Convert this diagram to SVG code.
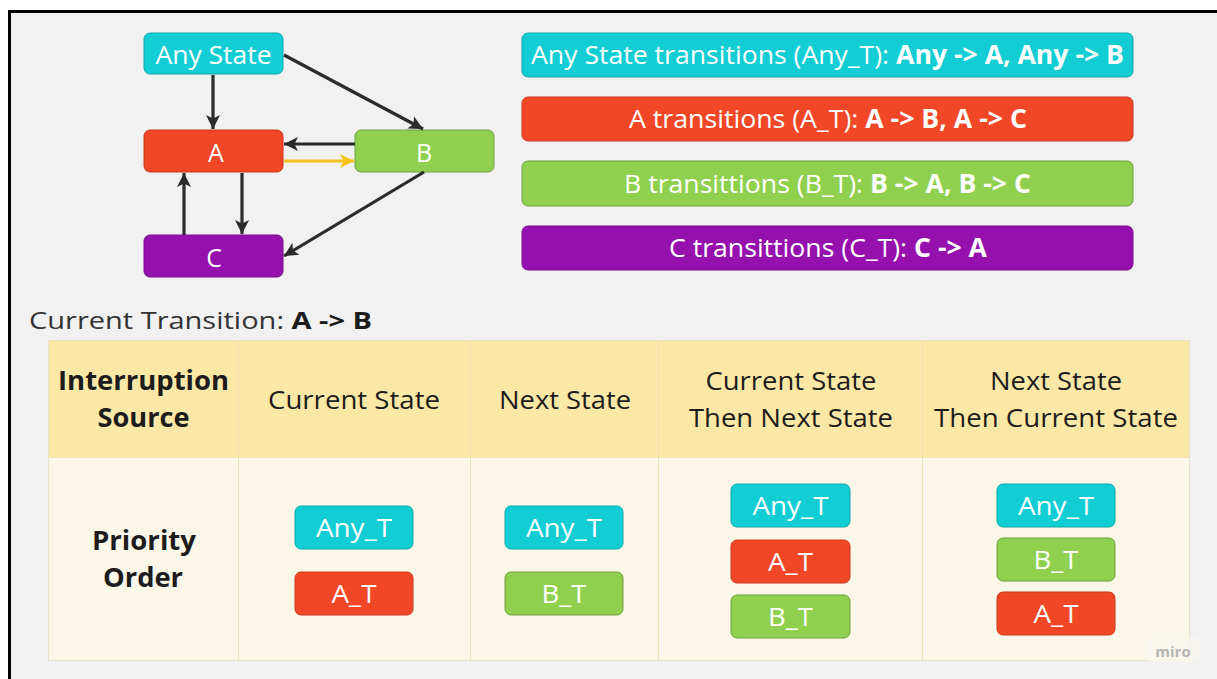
<svg xmlns="http://www.w3.org/2000/svg" width="1217" height="679" viewBox="0 0 1217 679">
  <style>
    .t { font-family: "Open Sans", "Noto Sans", "Liberation Sans", sans-serif; }
    .w { fill: #ffffff; }
    .dk { fill: #1c1c1c; }
    .b { font-weight: 700; }
    .cy { fill: #12cdd4; stroke: #0fa7ad; stroke-width: 1; }
    .rd { fill: #f24726; stroke: #c8391c; stroke-width: 1; }
    .gr { fill: #8fd14f; stroke: #6e9e3c; stroke-width: 1; }
    .pu { fill: #9510ac; stroke: #7a0d8d; stroke-width: 1; }
    .edge { fill: none; stroke: #2b2b2b; stroke-width: 3.2; }
    .edge-hl { fill: none; stroke: #f5c21b; stroke-width: 3.2; }
    .cell { stroke: #ede1b8; stroke-width: 1; }
  </style>
  <defs>
    <marker id="arrow" markerUnits="userSpaceOnUse" markerWidth="16" markerHeight="16" refX="14" refY="8" orient="auto">
      <path d="M0,1 L14,8 L0,15 L3.5,8 z" fill="#2b2b2b"/>
    </marker>
    <marker id="arrow-hl" markerUnits="userSpaceOnUse" markerWidth="16" markerHeight="16" refX="14" refY="8" orient="auto">
      <path d="M0,1 L14,8 L0,15 L3.5,8 z" fill="#f5c21b"/>
    </marker>
  </defs>

  <!-- page and frame -->
  <rect x="0" y="0" width="1217" height="679" fill="#ffffff"/>
  <rect x="9.5" y="11.5" width="1220" height="680" fill="#f1f1f1" stroke="#000000" stroke-width="3"/>

  <!-- state graph -->
  <g id="node-any">
    <rect class="cy" x="144" y="33" width="139" height="41" rx="6"/>
    <text class="t w" x="213.5" y="64" font-size="26" text-anchor="middle" textLength="116" lengthAdjust="spacingAndGlyphs">Any State</text>
  </g>
  <g id="node-a">
    <rect class="rd" x="144" y="130" width="139" height="42" rx="6"/>
    <text class="t w" x="216" y="162" font-size="25" text-anchor="middle">A</text>
  </g>
  <g id="node-b">
    <rect class="gr" x="355" y="130" width="139" height="42" rx="6"/>
    <text class="t w" x="424" y="162" font-size="25" text-anchor="middle">B</text>
  </g>
  <g id="node-c">
    <rect class="pu" x="144" y="235" width="139" height="42" rx="6"/>
    <text class="t w" x="214" y="267" font-size="25" text-anchor="middle">C</text>
  </g>

  <g id="connectors">
    <line class="edge" x1="213" y1="75" x2="213" y2="129" marker-end="url(#arrow)"/>
    <line class="edge" x1="284" y1="55" x2="423" y2="129" marker-end="url(#arrow)"/>
    <line class="edge" x1="355" y1="144" x2="284" y2="144" marker-end="url(#arrow)"/>
    <line class="edge-hl" x1="284" y1="161" x2="354" y2="161" marker-end="url(#arrow-hl)"/>
    <line class="edge" x1="242" y1="173" x2="242" y2="234" marker-end="url(#arrow)"/>
    <line class="edge" x1="184" y1="235" x2="184" y2="173" marker-end="url(#arrow)"/>
    <line class="edge" x1="424" y1="172" x2="284" y2="256" marker-end="url(#arrow)"/>
  </g>

  <!-- transition legend -->
  <g id="legend-any">
    <rect class="cy" x="522" y="33" width="611" height="44" rx="6"/>
    <text class="t w" x="827.5" y="64" font-size="26" text-anchor="middle" textLength="593" lengthAdjust="spacingAndGlyphs">Any State transitions (Any_T): <tspan class="b">Any -&gt; A, Any -&gt; B</tspan></text>
  </g>
  <g id="legend-a">
    <rect class="rd" x="522" y="97" width="611" height="44" rx="6"/>
    <text class="t w" x="828" y="128" font-size="26" text-anchor="middle" textLength="398" lengthAdjust="spacingAndGlyphs">A transitions (A_T): <tspan class="b">A -&gt; B, A -&gt; C</tspan></text>
  </g>
  <g id="legend-b">
    <rect class="gr" x="522" y="161" width="611" height="45" rx="6"/>
    <text class="t w" x="827.5" y="193" font-size="26" text-anchor="middle" textLength="407" lengthAdjust="spacingAndGlyphs">B transittions (B_T): <tspan class="b">B -&gt; A, B -&gt; C</tspan></text>
  </g>
  <g id="legend-c">
    <rect class="pu" x="522" y="226" width="611" height="44" rx="6"/>
    <text class="t w" x="828" y="257" font-size="26" text-anchor="middle" textLength="318" lengthAdjust="spacingAndGlyphs">C transittions (C_T): <tspan class="b">C -&gt; A</tspan></text>
  </g>

  <!-- current transition caption -->
  <g id="caption">
    <text class="t" x="29" y="329" font-size="24" fill="#333333" textLength="343" lengthAdjust="spacingAndGlyphs">Current Transition: <tspan class="b" fill="#1c1c1c">A -&gt; B</tspan></text>
  </g>

  <!-- priority table -->
  <g id="table">
    <rect x="48" y="340" width="1142" height="117" fill="#fce8a6"/>
    <rect x="48" y="457" width="1142" height="204" fill="#fbf7e8"/>
    <rect x="48.5" y="340.5" width="1141" height="320" fill="none" stroke="#e9e2c8" stroke-width="1"/>
    <line class="cell" x1="48" y1="457.5" x2="1190" y2="457.5"/>
    <line class="cell" x1="238.5" y1="340" x2="238.5" y2="661"/>
    <line class="cell" x1="470.5" y1="340" x2="470.5" y2="661"/>
    <line class="cell" x1="658.5" y1="340" x2="658.5" y2="661"/>
    <line class="cell" x1="922.5" y1="340" x2="922.5" y2="661"/>

    <text class="t dk b" x="143.5" y="390" font-size="26" text-anchor="middle" textLength="171" lengthAdjust="spacingAndGlyphs">Interruption</text>
    <text class="t dk b" x="143.5" y="427" font-size="26" text-anchor="middle" textLength="92" lengthAdjust="spacingAndGlyphs">Source</text>
    <text class="t dk" x="354" y="409" font-size="25" text-anchor="middle" textLength="172" lengthAdjust="spacingAndGlyphs">Current State</text>
    <text class="t dk" x="565" y="409" font-size="25" text-anchor="middle" textLength="132" lengthAdjust="spacingAndGlyphs">Next State</text>
    <text class="t dk" x="791" y="390" font-size="25" text-anchor="middle" textLength="171" lengthAdjust="spacingAndGlyphs">Current State</text>
    <text class="t dk" x="791" y="427" font-size="25" text-anchor="middle" textLength="204" lengthAdjust="spacingAndGlyphs">Then Next State</text>
    <text class="t dk" x="1056" y="390" font-size="25" text-anchor="middle" textLength="132" lengthAdjust="spacingAndGlyphs">Next State</text>
    <text class="t dk" x="1056" y="427" font-size="25" text-anchor="middle" textLength="244" lengthAdjust="spacingAndGlyphs">Then Current State</text>

    <text class="t dk b" x="144" y="550" font-size="26" text-anchor="middle" textLength="104" lengthAdjust="spacingAndGlyphs">Priority</text>
    <text class="t dk b" x="143" y="587" font-size="26" text-anchor="middle" textLength="80" lengthAdjust="spacingAndGlyphs">Order</text>
  </g>

  <!-- priority chips: current state column -->
  <g id="chip-cur-any">
    <rect class="cy" x="295" y="506" width="118" height="43" rx="6"/>
    <text class="t w" x="354" y="537" font-size="26" text-anchor="middle" textLength="76" lengthAdjust="spacingAndGlyphs">Any_T</text>
  </g>
  <g id="chip-cur-a">
    <rect class="rd" x="295" y="572" width="118" height="43" rx="6"/>
    <text class="t w" x="354" y="603" font-size="26" text-anchor="middle" textLength="45" lengthAdjust="spacingAndGlyphs">A_T</text>
  </g>
  <!-- next state column -->
  <g id="chip-next-any">
    <rect class="cy" x="505" y="506" width="118" height="43" rx="6"/>
    <text class="t w" x="564" y="537" font-size="26" text-anchor="middle" textLength="76" lengthAdjust="spacingAndGlyphs">Any_T</text>
  </g>
  <g id="chip-next-b">
    <rect class="gr" x="505" y="572" width="118" height="43" rx="6"/>
    <text class="t w" x="564" y="603" font-size="26" text-anchor="middle" textLength="45" lengthAdjust="spacingAndGlyphs">B_T</text>
  </g>
  <!-- current then next column -->
  <g id="chip-cn-any">
    <rect class="cy" x="731" y="484" width="119" height="43" rx="6"/>
    <text class="t w" x="790.5" y="515" font-size="26" text-anchor="middle" textLength="76" lengthAdjust="spacingAndGlyphs">Any_T</text>
  </g>
  <g id="chip-cn-a">
    <rect class="rd" x="731" y="540" width="119" height="43" rx="6"/>
    <text class="t w" x="790.5" y="571" font-size="26" text-anchor="middle" textLength="45" lengthAdjust="spacingAndGlyphs">A_T</text>
  </g>
  <g id="chip-cn-b">
    <rect class="gr" x="731" y="595" width="119" height="43" rx="6"/>
    <text class="t w" x="790.5" y="626" font-size="26" text-anchor="middle" textLength="45" lengthAdjust="spacingAndGlyphs">B_T</text>
  </g>
  <!-- next then current column -->
  <g id="chip-nc-any">
    <rect class="cy" x="997" y="484" width="118" height="43" rx="6"/>
    <text class="t w" x="1056" y="515" font-size="26" text-anchor="middle" textLength="76" lengthAdjust="spacingAndGlyphs">Any_T</text>
  </g>
  <g id="chip-nc-b">
    <rect class="gr" x="997" y="538" width="118" height="43" rx="6"/>
    <text class="t w" x="1056" y="569" font-size="26" text-anchor="middle" textLength="45" lengthAdjust="spacingAndGlyphs">B_T</text>
  </g>
  <g id="chip-nc-a">
    <rect class="rd" x="997" y="592" width="118" height="43" rx="6"/>
    <text class="t w" x="1056" y="623" font-size="26" text-anchor="middle" textLength="45" lengthAdjust="spacingAndGlyphs">A_T</text>
  </g>

  <!-- board watermark -->
  <g id="watermark">
    <rect x="1147" y="638" width="54" height="24" fill="#f7f5ee" opacity="0.8"/>
    <text class="t b" x="1173" y="657" font-size="15" fill="#b5b5b5" text-anchor="middle">miro</text>
  </g>
</svg>
